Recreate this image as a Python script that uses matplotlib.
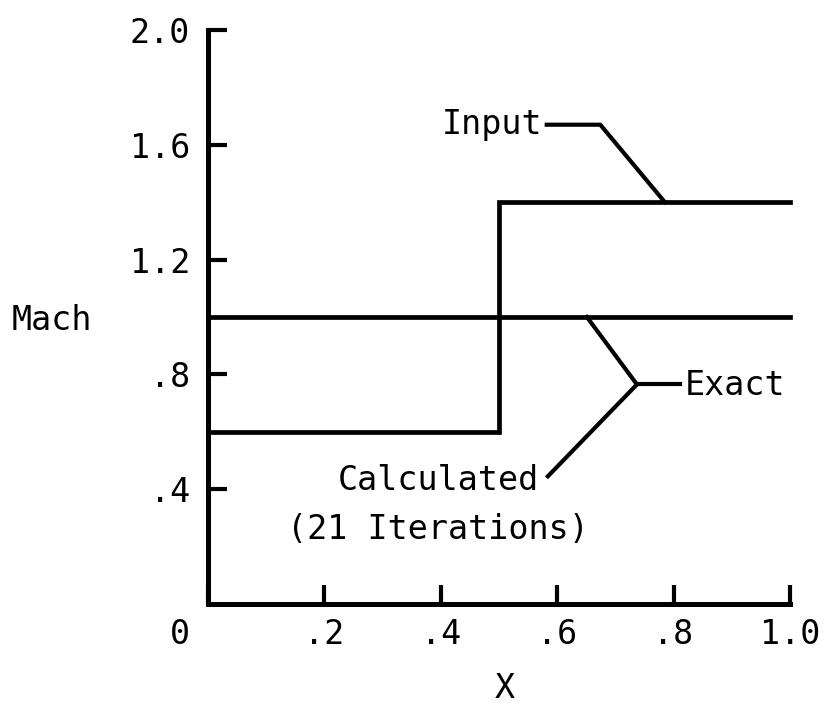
import matplotlib
matplotlib.use("Agg")
import matplotlib.pyplot as plt
from matplotlib.transforms import ScaledTranslation

# Data
input_x = [0.0, 0.5, 0.5, 1.0]
input_y = [0.6, 0.6, 1.4, 1.4]
exact_x = [0.0, 1.0]
exact_y = [1.0, 1.0]

xticks = [0.0, 0.2, 0.4, 0.6, 0.8, 1.0]
xticklabels = ["0", ".2", ".4", ".6", ".8", "1.0"]
yticks = [0.4, 0.8, 1.2, 1.6, 2.0]
yticklabels = [".4", ".8", "1.2", "1.6", "2.0"]

# Leader lines (annotation geometry in data units)
input_leader_x = [0.582, 0.674, 0.785]
input_leader_y = [1.670, 1.670, 1.400]
exact_leader_x = [0.651, 0.737, 0.584]
exact_leader_y = [1.000, 0.765, 0.445]
exact_tail_x = [0.737, 0.811]
exact_tail_y = [0.765, 0.765]

FONT = ["DejaVu Sans Mono"]
FS = 24
plt.rcParams["font.family"] = FONT

fig = plt.figure(figsize=(8.27, 7.12), dpi=100)
ax = fig.add_axes([208/827, 1-604/712, 582/827, 574/712])

lw = 3.4
ax.plot(input_x, input_y, color="black", lw=lw, clip_on=False, solid_joinstyle="miter")
ax.plot(exact_x, exact_y, color="black", lw=lw, clip_on=False)
ax.plot(input_leader_x, input_leader_y, color="black", lw=3.0, clip_on=False)
ax.plot(exact_leader_x, exact_leader_y, color="black", lw=3.0, clip_on=False)
ax.plot(exact_tail_x, exact_tail_y, color="black", lw=3.0, clip_on=False)

ax.text(0.574, 1.670, "Input", ha="right", va="center", fontsize=FS)
ax.text(0.820, 0.762, "Exact", ha="left", va="center", fontsize=FS)
ax.text(0.395, 0.431, "Calculated", ha="center", va="center", fontsize=FS)
ax.text(0.395, 0.261, "(21 Iterations)", ha="center", va="center", fontsize=FS)

ax.set_xlim(0, 1)
ax.set_ylim(0, 2)
for s in ["top", "right"]:
    ax.spines[s].set_visible(False)
for s in ["left", "bottom"]:
    ax.spines[s].set_linewidth(3.6)
    ax.spines[s].set_capstyle("projecting")

ax.set_xticks(xticks)
ax.set_xticklabels(xticklabels)
ax.set_yticks(yticks)
ax.set_yticklabels(yticklabels)
ax.tick_params(axis="both", direction="in", length=14, width=3.0, labelsize=FS, colors="black")
ax.tick_params(axis="y", pad=13)
ax.tick_params(axis="x", pad=10)

# The "0" label sits left of the origin in the reference
lab0 = ax.get_xticklabels()[0]
lab0.set_transform(lab0.get_transform() + ScaledTranslation(-28/100, 0, fig.dpi_scale_trans))

ax.set_ylabel("Mach", rotation=0, fontsize=FS, ha="center", va="center")
ax.yaxis.set_label_coords(-0.268, 0.494)
ax.set_xlabel("X", fontsize=FS, ha="center", va="center")
ax.xaxis.set_label_coords(0.510, -0.148)

fig.savefig("out.png", dpi=100)
